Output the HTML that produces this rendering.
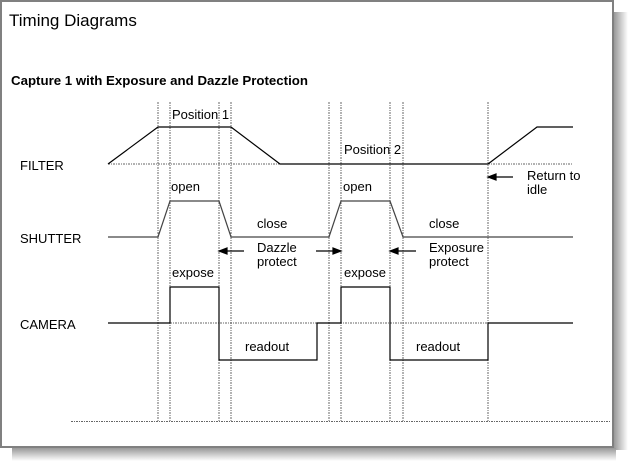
<!DOCTYPE html>
<html><head><style>
html,body{margin:0;padding:0;background:#fff;width:630px;height:465px;overflow:hidden}
</style></head><body>
<svg width="630" height="465" xmlns="http://www.w3.org/2000/svg" font-family="Liberation Sans, Arial, sans-serif">
<defs>
<linearGradient id="sr" x1="0" x2="1" y1="0" y2="0"><stop offset="0" stop-color="#999"/><stop offset="1" stop-color="#fff"/></linearGradient>
<linearGradient id="sb" x1="0" x2="0" y1="0" y2="1"><stop offset="0" stop-color="#999"/><stop offset="1" stop-color="#fff"/></linearGradient>
</defs>
<rect x="614" y="12" width="14" height="438" fill="url(#sr)"/>
<rect x="12" y="448" width="604" height="13" fill="url(#sb)"/>
<rect x="1" y="1" width="612" height="446" fill="#fff" stroke="#808080" stroke-width="2"/>
<text x="9" y="26" font-size="17" fill="#000">Timing Diagrams</text>
<text x="11" y="85" font-size="13" font-weight="bold" fill="#000" textLength="297" lengthAdjust="spacingAndGlyphs">Capture 1 with Exposure and Dazzle Protection</text>
<g stroke="#666" stroke-width="1" stroke-dasharray="2,1,1,1" fill="none">
<line x1="158" y1="102" x2="158" y2="421"/>
<line x1="170" y1="102" x2="170" y2="421"/>
<line x1="219" y1="102" x2="219" y2="421"/>
<line x1="231" y1="102" x2="231" y2="421"/>
<line x1="329" y1="102" x2="329" y2="421"/>
<line x1="341" y1="102" x2="341" y2="421"/>
<line x1="390" y1="102" x2="390" y2="421"/>
<line x1="403" y1="102" x2="403" y2="421"/>
<line x1="488" y1="102" x2="488" y2="421"/>
<line x1="71" y1="421.5" x2="610" y2="421.5"/>
<line x1="108" y1="164" x2="280" y2="164"/>
<line x1="488" y1="164" x2="573" y2="164"/>
<line x1="170" y1="323" x2="573" y2="323"/>
</g>
<g stroke="#000" stroke-width="1.2" fill="none">
<polyline points="108,164 158,127 231,127 280,164 488,164 537,127 573,127"/>
<polyline points="108,237 158,237 170,201 219,201 231,237 329,237 341,201 390,201 403,237 573,237" stroke="#444"/>
<polyline points="108,323 170,323 170,287 219,287 219,360 317,360 317,323 341,323 341,287 390,287 390,360 488,360 488,323 573,323"/>
</g>
<g font-size="13" fill="#000">
<text x="20" y="170">FILTER</text>
<text x="20" y="243">SHUTTER</text>
<text x="20" y="329">CAMERA</text>
<text x="172" y="119">Position 1</text>
<text x="344" y="154">Position 2</text>
<text x="171" y="191">open</text>
<text x="343" y="191">open</text>
<text x="257" y="228">close</text>
<text x="429" y="228">close</text>
<text x="257" y="252">Dazzle</text>
<text x="257" y="266">protect</text>
<text x="429" y="252">Exposure</text>
<text x="429" y="266">protect</text>
<text x="172" y="277">expose</text>
<text x="344" y="277">expose</text>
<text x="245" y="351">readout</text>
<text x="416" y="351">readout</text>
<text x="527" y="180">Return to</text>
<text x="527" y="194">idle</text>
</g>
<g stroke="#000" stroke-width="1.2" fill="#000">
<line x1="225" y1="251" x2="244" y2="251"/><polygon points="219,251 227,248 227,254"/>
<line x1="316" y1="251" x2="335" y2="251"/><polygon points="341,251 333,248 333,254"/>
<line x1="396" y1="251" x2="416" y2="251"/><polygon points="390,251 398,248 398,254"/>
<line x1="494" y1="177" x2="513" y2="177"/><polygon points="488,177 496,174 496,180"/>
</g>
</svg>
</body></html>
